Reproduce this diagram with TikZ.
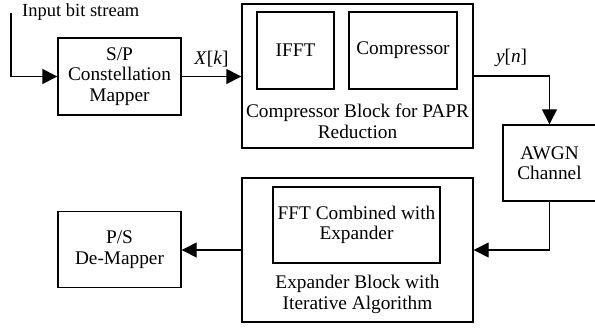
\documentclass[tikz,border=0pt]{standalone}
\usepackage{fontspec}
\setmainfont{Liberation Serif}
\usetikzlibrary{arrows.meta}
\begin{document}
\begin{tikzpicture}[x=1pt,y=-1pt,
  every node/.style={font=\fontsize{19.3}{20.5}\selectfont},
  blk/.style={draw,line width=1.4pt,inner sep=0pt,align=center},
  txt/.style={align=center,inner sep=0pt},
  conn/.style={line width=1.4pt,-{Triangle[length=15pt,width=15pt]}}]
\useasboundingbox (0,0) rectangle (595,329);
\node[blk,minimum width=123pt,minimum height=77pt] (sp) at (119.5,76.5) {S/P\\Constellation\\Mapper};
\node[blk,minimum width=231pt,minimum height=144pt] (cout) at (357.5,76) {};
\node[blk,minimum width=77pt,minimum height=77pt] (ifft) at (295.5,50.5) {IFFT};
\node[blk,minimum width=108pt,minimum height=77pt] (cmp) at (403,50.5) {Compressor};
\node[txt] (clab) at (357.5,121.5) {Compressor Block for PAPR\\Reduction};
\node[blk,minimum width=93pt,minimum height=76pt] (awgn) at (549.5,163) {AWGN\\Channel};
\node[blk,minimum width=231pt,minimum height=144pt] (eout) at (357.5,250) {};
\node[blk,minimum width=167pt,minimum height=76pt] (fft) at (356.5,225) {FFT Combined with\\Expander};
\node[txt] (elab) at (357.5,294.5) {Expander Block with\\Iterative Algorithm};
\node[blk,minimum width=123pt,minimum height=76pt] (ps) at (119.5,249.5) {P/S\\De-Mapper};
\coordinate (in0) at (11,13);
\node[txt,anchor=west,font=\fontsize{18.5}{20}\selectfont] (inlab) at (22,12) {Input bit stream};
\draw[conn] (in0) |- (sp.west);
\draw[conn] (sp.east) -- (sp.east -| cout.west) node[midway,above=9pt,txt] (xk) {\textit{X}[\textit{k}]};
\draw[conn] (cout.east) -| (awgn.north) node[pos=0.25,above=9pt,txt] (yn) {\textit{y}[\textit{n}]};
\draw[conn] (awgn.south) |- (eout.east);
\draw[conn] (eout.west) -- (eout.west -| ps.east);
\end{tikzpicture}
\end{document}
